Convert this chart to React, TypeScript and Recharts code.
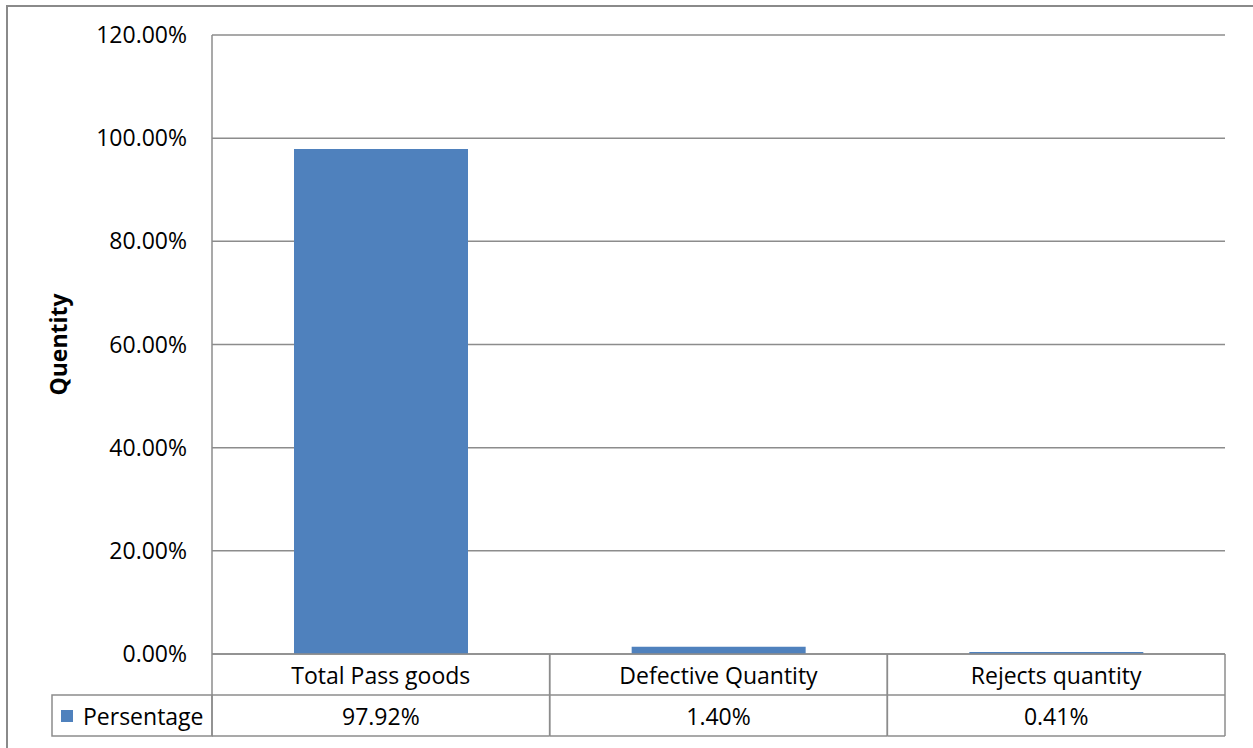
import React from 'react';
import { BarChart, Bar, XAxis, YAxis, CartesianGrid, Label } from 'recharts';

const categories = ['Total Pass goods', 'Defective Quantity', 'Rejects quantity'];
const percentages = [97.92, 1.4, 0.41];
const yTicks = [0, 20, 40, 60, 80, 100, 120];
const seriesName = 'Persentage';

const data = categories.map((name, i) => ({ name, value: percentages[i] }));

const W = 1253;
const H = 748;
const PLOT_LEFT = 212;
const PLOT_RIGHT = 1225;
const PLOT_TOP = 35;
const PLOT_BOTTOM = 654;
const ROW_H = 41;
const BAND = (PLOT_RIGHT - PLOT_LEFT) / categories.length;
const LINE = '#8c8c8c';
const BAR = '#4f81bd';
const FONT = '"Open Sans", sans-serif';
const FS = 23;

const fmt = (v: number) => `${v.toFixed(2)}%`;

// data table drawn under each category: label row + value row
const TableTick = (props: any) => {
  const { payload, index } = props;
  const cx = payload.coordinate;
  const left = cx - BAND / 2;
  const right = cx + BAND / 2;
  const r1 = PLOT_BOTTOM + ROW_H;
  const r2 = r1 + ROW_H;
  const val = percentages[index];
  return (
    <g>
      <line x1={left} y1={PLOT_BOTTOM} x2={left} y2={r2} stroke={LINE} strokeWidth={1.5} />
      <line x1={right} y1={PLOT_BOTTOM} x2={right} y2={r2} stroke={LINE} strokeWidth={1.5} />
      <line x1={left} y1={r1} x2={right} y2={r1} stroke={LINE} strokeWidth={1.5} />
      <line x1={left} y1={r2} x2={right} y2={r2} stroke={LINE} strokeWidth={1.5} />
      <text x={cx} y={PLOT_BOTTOM + ROW_H / 2} textAnchor="middle" dominantBaseline="central"
        fontSize={FS} fontFamily={FONT} fill="#000">{payload.value}</text>
      <text x={cx} y={r1 + ROW_H / 2} textAnchor="middle" dominantBaseline="central"
        fontSize={FS} fontFamily={FONT} fill="#000">{fmt(val)}</text>
      {index === 0 && (
        <g>
          <rect x={52} y={r1} width={left - 52} height={ROW_H} fill="none" stroke={LINE} strokeWidth={1.5} />
          <rect x={61} y={r1 + 15} width={12} height={12} fill={BAR} />
          <text x={83} y={r1 + ROW_H / 2} dominantBaseline="central"
            fontSize={FS} fontFamily={FONT} fill="#000">{seriesName}</text>
        </g>
      )}
    </g>
  );
};

export default function App() {
  return (
    <div style={{ position: 'absolute', left: 0, top: 0, width: W, height: H, background: '#fff', overflow: 'hidden' }}>
      <div style={{ position: 'absolute', left: 6, top: 5, width: W + 20, height: H + 20, border: '2px solid #8a8a8a' }} />
      <div style={{ position: 'absolute', left: 0, top: 0 }}>
        <BarChart
          width={W}
          height={H}
          data={data}
          margin={{ top: PLOT_TOP, right: W - PLOT_RIGHT, bottom: 12, left: PLOT_LEFT - 100 }}
          barSize={174}
        >
          <CartesianGrid vertical={false} stroke={LINE} strokeWidth={1.5} />
          <XAxis
            dataKey="name"
            height={H - PLOT_BOTTOM - 12}
            axisLine={{ stroke: LINE, strokeWidth: 1.5 }}
            tickLine={false}
            tick={<TableTick />}
            interval={0}
          />
          <YAxis
            width={100}
            domain={[0, 120]}
            ticks={yTicks}
            tickFormatter={fmt}
            axisLine={{ stroke: LINE, strokeWidth: 1.5 }}
            tickLine={false}
            tickSize={0}
            tickMargin={25}
            tick={{ fontSize: FS, fontFamily: FONT, fill: '#000' }}
          >
            <Label
              value="Quentity"
              angle={-90}
              position="insideLeft"
              offset={-53}
              style={{ fontSize: FS, fontWeight: 'bold', fontFamily: FONT, fill: '#000', textAnchor: 'middle' }}
            />
          </YAxis>
          <Bar dataKey="value" fill={BAR} isAnimationActive={false} />
        </BarChart>
      </div>
    </div>
  );
}
